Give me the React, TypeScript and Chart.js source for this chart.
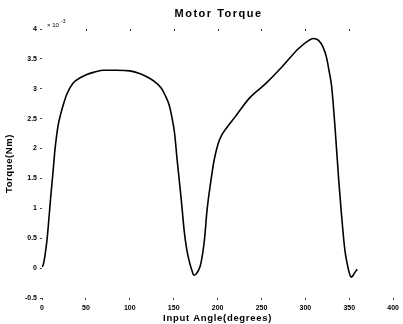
import React, { useEffect, useRef } from "react";
import { Chart, registerables } from "chart.js";

Chart.register(...registerables);

const angles = [0, 1.5, 3.5, 5.7, 8, 10, 12.5, 14.7, 16.5, 18.5, 21, 24, 28, 35, 43, 51, 60, 70, 85, 100, 112, 122, 130, 136, 140, 145, 148, 151, 154, 158.6, 162, 165, 168, 171, 173, 176, 178.5, 181, 185, 188, 192, 196, 202, 211, 220, 236, 255, 273, 292, 304, 309, 315, 320, 324, 327, 330, 334, 338, 341, 345, 348, 350, 352, 354, 356, 359];
const torque = [0.02, 0.06, 0.22, 0.47, 0.85, 1.2, 1.6, 1.97, 2.2, 2.4, 2.56, 2.72, 2.9, 3.09, 3.18, 3.24, 3.28, 3.31, 3.31, 3.3, 3.25, 3.18, 3.1, 3.01, 2.9, 2.72, 2.52, 2.26, 1.8, 1.15, 0.62, 0.3, 0.1, -0.05, -0.12, -0.09, -0.03, 0.08, 0.47, 0.97, 1.42, 1.8, 2.14, 2.36, 2.53, 2.84, 3.09, 3.36, 3.67, 3.81, 3.84, 3.81, 3.7, 3.53, 3.3, 3.03, 2.31, 1.47, 0.92, 0.3, 0.05, -0.08, -0.15, -0.13, -0.08, -0.02];

const titleText = "Motor Torque";
const xTitle = "Input Angle(degrees)";
const yTitle = "Torque(Nm)";
const exponentText = "\u00d7 10";
const exponentSup = "-3";

const xMin = 0, xMax = 400, xStep = 50;
const yMin = -0.5, yMax = 4, yStep = 0.5;

const textPlugin = {
  id: "texts",
  afterDraw(chart: any) {
    const ctx = chart.ctx;
    const area = chart.chartArea;
    const xs = chart.scales.x;
    ctx.save();
    ctx.fillStyle = "#000";
    ctx.textAlign = "center";
    ctx.textBaseline = "middle";
    // title
    ctx.font = "bold 11px 'Liberation Sans', Arial, sans-serif";
    (ctx as any).letterSpacing = "1.5px";
    ctx.fillText(titleText, (area.left + area.right) / 2 + 1, 14);
    // x title
    ctx.font = "bold 9.5px 'Liberation Sans', Arial, sans-serif";
    (ctx as any).letterSpacing = "0.7px";
    ctx.fillText(xTitle, (area.left + area.right) / 2, 318);
    // y title
    (ctx as any).letterSpacing = "0.6px";
    ctx.save();
    ctx.translate(9, (area.top + area.bottom) / 2);
    ctx.rotate(-Math.PI / 2);
    ctx.fillText(yTitle, 0, 0);
    ctx.restore();
    (ctx as any).letterSpacing = "0px";
    // exponent
    ctx.font = "6px 'Liberation Sans', Arial, sans-serif";
    ctx.textAlign = "left";
    ctx.fillText(exponentText, 47, 25);
    ctx.font = "5px 'Liberation Sans', Arial, sans-serif";
    ctx.fillText(exponentSup, 61, 22);
    // top tick dots
    ctx.fillStyle = "#333";
    for (let v = xMin + xStep; v < xMax; v += xStep) {
      const px = xs.getPixelForValue(v);
      ctx.fillRect(Math.round(px), area.top, 1, 2);
    }
    ctx.restore();
  },
};

export default function App() {
  const ref = useRef<HTMLCanvasElement>(null);
  useEffect(() => {
    if (!ref.current) return;
    const chart = new Chart(ref.current, {
      type: "line",
      data: {
        datasets: [
          {
            data: angles.map((a, i) => ({ x: a, y: torque[i] })),
            borderColor: "#000",
            borderWidth: 1.6,
            pointRadius: 0,
            cubicInterpolationMode: "monotone",
            fill: false,
          },
        ],
      },
      options: {
        animation: false,
        responsive: false,
        devicePixelRatio: 1,
        layout: { padding: { top: 29, right: 8, left: 0, bottom: 0 } },
        plugins: { legend: { display: false }, title: { display: false }, tooltip: { enabled: false } },
        scales: {
          x: {
            type: "linear",
            min: xMin,
            max: xMax,
            afterFit(scale: any) { scale.height = 26; },
            border: { display: false },
            grid: { drawOnChartArea: false, drawTicks: true, tickLength: 2, color: "#444" },
            ticks: {
              stepSize: xStep,
              padding: 4,
              color: "#000",
              maxRotation: 0,
              font: { family: "'Liberation Sans', Arial, sans-serif", size: 7, weight: "bold" },
            },
          },
          y: {
            type: "linear",
            min: yMin,
            max: yMax,
            afterFit(scale: any) { scale.width = 42; },
            border: { display: false },
            grid: { drawOnChartArea: false, drawTicks: true, tickLength: 2, color: "#444" },
            ticks: {
              stepSize: yStep,
              padding: 3,
              color: "#000",
              font: { family: "'Liberation Sans', Arial, sans-serif", size: 7, weight: "bold" },
              callback: (v: any) => String(v),
            },
          },
        },
      },
      plugins: [textPlugin],
    } as any);
    return () => chart.destroy();
  }, []);
  return (
    <div style={{ position: "absolute", left: 0, top: 0, width: 403, height: 324, background: "#fff" }}>
      <canvas ref={ref} width={403} height={324} style={{ display: "block" }} />
    </div>
  );
}
